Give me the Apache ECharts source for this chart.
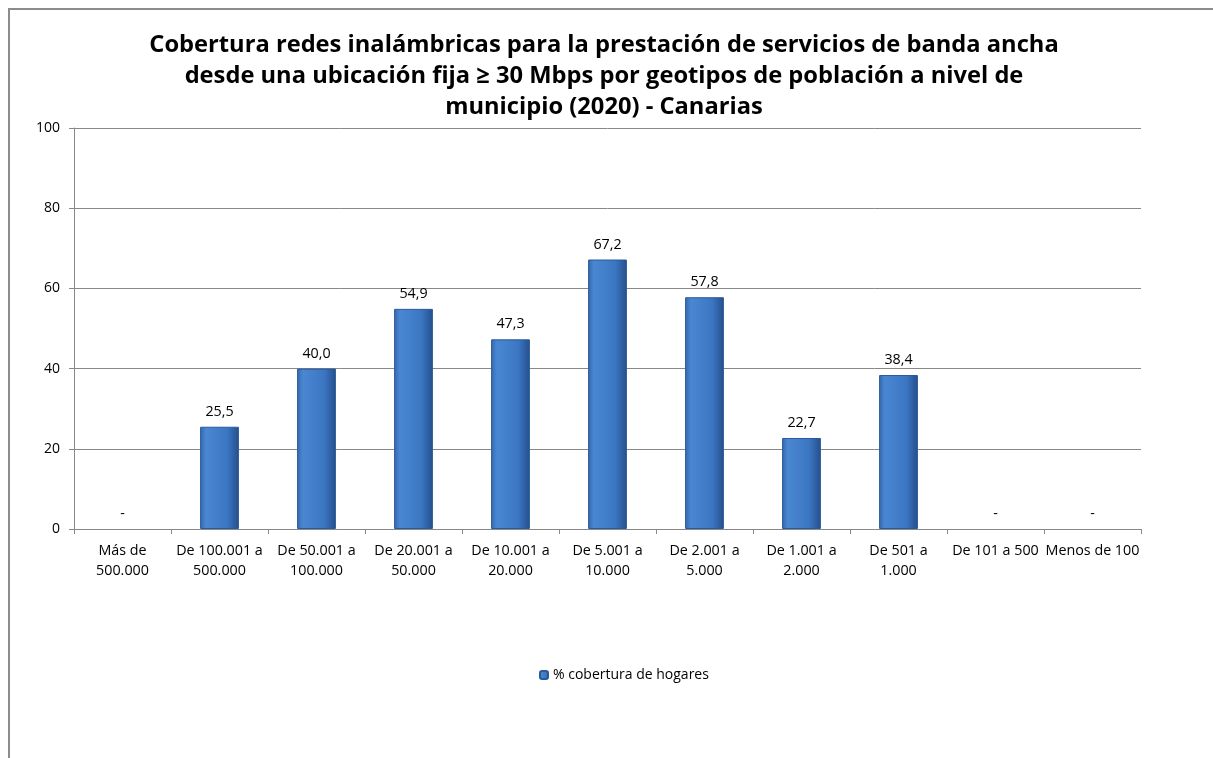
<!DOCTYPE html>
<html>
<head>
<meta charset="utf-8">
<script src="https://cdn.jsdelivr.net/npm/echarts@6/dist/echarts.min.js"></script>
<style>
  html, body { margin: 0; padding: 0; background: #fff; }
  #frame { position: absolute; left: 8px; top: 8px; width: 1220px; height: 760px;
           border-left: 2px solid #8c8c8c; border-top: 2px solid #8c8c8c; }
  #chart { position: absolute; left: 0; top: 0; width: 1213px; height: 758px; }
</style>
</head>
<body>
<div id="frame"></div>
<div id="chart"></div>
<script>
// Data
const categories = [
  'Más de\n500.000', 'De 100.001 a\n500.000', 'De 50.001 a\n100.000', 'De 20.001 a\n50.000',
  'De 10.001 a\n20.000', 'De 5.001 a\n10.000', 'De 2.001 a\n5.000', 'De 1.001 a\n2.000',
  'De 501 a\n1.000', 'De 101 a 500', 'Menos de 100'
];
const coverage = [0, 25.5, 40.0, 54.9, 47.3, 67.2, 57.8, 22.7, 38.4, 0, 0];
const seriesName = '% cobertura de hogares';
const titleText = 'Cobertura redes inalámbricas para la prestación de servicios de banda ancha\n' +
  'desde una ubicación fija ≥ 30 Mbps por geotipos de población a nivel de\n' +
  'municipio (2020) - Canarias';

const FONT = '"Open Sans", "Liberation Sans", sans-serif';

const barColor = new echarts.graphic.LinearGradient(0, 0, 1, 0, [
  { offset: 0, color: '#3468ad' },
  { offset: 0.15, color: '#4a87d3' },
  { offset: 0.7, color: '#3b76c2' },
  { offset: 1, color: '#254f8c' }
]);

// zero values get no visible bar outline
const barData = coverage.map(v => v === 0
  ? { value: v, itemStyle: { borderWidth: 0, opacity: 0 } }
  : v);

const chart = echarts.init(document.getElementById('chart'));
chart.setOption({
  backgroundColor: 'transparent',
  animation: false,
  title: {
    text: titleText,
    left: 599,
    textAlign: 'center',
    top: 25,
    textStyle: { fontFamily: FONT, fontSize: 23.7, fontWeight: 'bold', color: '#000', lineHeight: 31 }
  },
  legend: {
    data: [seriesName],
    left: 534,
    top: 663,
    itemWidth: 8,
    itemHeight: 8,
    itemGap: 4,
    textStyle: { fontFamily: FONT, fontSize: 14, color: '#000' }
  },
  grid: { left: 74, right: 72, top: 128, bottom: 229, containLabel: false },
  xAxis: {
    type: 'category',
    data: categories,
    axisLine: { lineStyle: { color: '#888', width: 1 } },
    axisTick: { show: true, length: 5, lineStyle: { color: '#888' } },
    axisLabel: { fontFamily: FONT, fontSize: 14.3, color: '#000', interval: 0, margin: 12, lineHeight: 20 }
  },
  yAxis: {
    type: 'value',
    min: 0, max: 100, interval: 20,
    axisLine: { show: true, lineStyle: { color: '#888' } },
    axisTick: { show: true, length: 5, lineStyle: { color: '#888' } },
    splitLine: { lineStyle: { color: '#888', width: 1 } },
    axisLabel: { fontFamily: FONT, fontSize: 14, color: '#000', margin: 14 }
  },
  series: [{
    name: seriesName,
    type: 'bar',
    data: barData,
    barWidth: '40%',
    itemStyle: { color: barColor, borderColor: '#2a5a99', borderWidth: 1 },
    label: {
      show: true,
      position: 'top',
      distance: 8,
      fontFamily: FONT,
      fontSize: 14.3,
      color: '#000',
      opacity: 1,
      formatter: p => p.value === 0 ? '-' : p.value.toFixed(1).replace('.', ',')
    }
  }]
});
</script>
</body>
</html>
